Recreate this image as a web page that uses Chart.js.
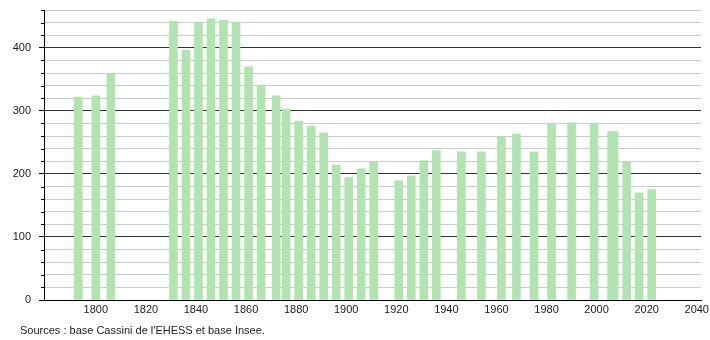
<!DOCTYPE html>
<html>
<head>
<meta charset="utf-8">
<script src="https://cdn.jsdelivr.net/npm/chart.js@4/dist/chart.umd.min.js"></script>
<style>
  body { margin: 0; background: #fff; }
  #wrap { position: relative; width: 710px; height: 340px; }
  #source {
    position: absolute; left: 20px; top: 324px;
    font: 11px "Liberation Sans", Arial, sans-serif; color: #222;
  }
</style>
</head>
<body>
<div id="wrap">
  <canvas id="chart" width="710" height="340"></canvas>
  <div id="source">Sources : base Cassini de l'EHESS et base Insee.</div>
</div>
<script>
// Census years and population
const years = [1793, 1800, 1806, 1831, 1836, 1841, 1846, 1851, 1856, 1861, 1866, 1872, 1876,
  1881, 1886, 1891, 1896, 1901, 1906, 1911, 1921, 1926, 1931, 1936, 1946, 1954, 1962, 1968,
  1975, 1982, 1990, 1999, 2006, 2007, 2012, 2017, 2022];
const population = [322, 324, 359, 442, 396, 439, 446, 444, 441, 370, 341, 324, 303,
  284, 276, 265, 214, 194, 208, 219, 189, 197, 221, 237, 235, 235, 259, 263,
  235, 279, 281, 279, 267, 267, 219, 170, 175];

const yMax = 460;
const yStep = 20;
const yLabelStep = 100;
const xTickStep = 20;
const xFirstLabel = 1800;

// short minor ticks on the y axis
const minorTicks = {
  id: 'minorTicks',
  afterDraw(chart) {
    const y = chart.scales.y;
    const ctx = chart.ctx;
    ctx.save();
    ctx.strokeStyle = '#000';
    ctx.lineWidth = 1;
    y.ticks.forEach(t => {
      if (t.value % yLabelStep === 0) return;
      const py = Math.round(y.getPixelForValue(t.value)) + 0.5;
      ctx.beginPath();
      ctx.moveTo(y.right - 3, py);
      ctx.lineTo(y.right, py);
      ctx.stroke();
    });
    ctx.restore();
  }
};

new Chart(document.getElementById('chart'), {
  type: 'bar',
  data: {
    datasets: [{
      data: years.map((yr, i) => ({ x: yr, y: population[i] })),
      backgroundColor: 'rgb(178, 228, 178)',
      barThickness: 8
    }]
  },
  options: {
    responsive: false,
    animation: false,
    layout: { padding: { top: 10, right: 9, left: 0, bottom: 0 } },
    plugins: { legend: { display: false }, tooltip: { enabled: false } },
    scales: {
      x: {
        type: 'linear',
        min: 1779.3,
        max: 2041.7,
        offset: false,
        grid: { display: false, drawTicks: false },
        border: { color: '#000', width: 1 },
        ticks: {
          stepSize: xTickStep,
          includeBounds: false,
          autoSkip: false,
          maxRotation: 0,
          padding: 3,
          color: '#222',
          font: { family: 'Liberation Sans', size: 11 },
          callback: v => v >= xFirstLabel ? v : ''
        },
        afterFit: s => { s.height = 40; s.paddingLeft = 0; s.paddingRight = 0; }
      },
      y: {
        min: 0,
        max: yMax,
        grid: {
          color: c => c.tick && c.tick.value % yLabelStep === 0 ? '#333' : '#ccc',
          tickColor: c => c.tick && c.tick.value % yLabelStep === 0 ? '#000' : 'rgba(0,0,0,0)',
          tickLength: 5
        },
        border: { color: '#000', width: 1 },
        ticks: {
          stepSize: yStep,
          autoSkip: false,
          padding: 8,
          color: '#222',
          font: { family: 'Liberation Sans', size: 11 },
          callback: v => v % yLabelStep === 0 ? v : ''
        },
        afterFit: s => { s.width = 44; s.paddingTop = 0; s.paddingBottom = 0; }
      }
    }
  },
  plugins: [minorTicks]
});
</script>
</body>
</html>
